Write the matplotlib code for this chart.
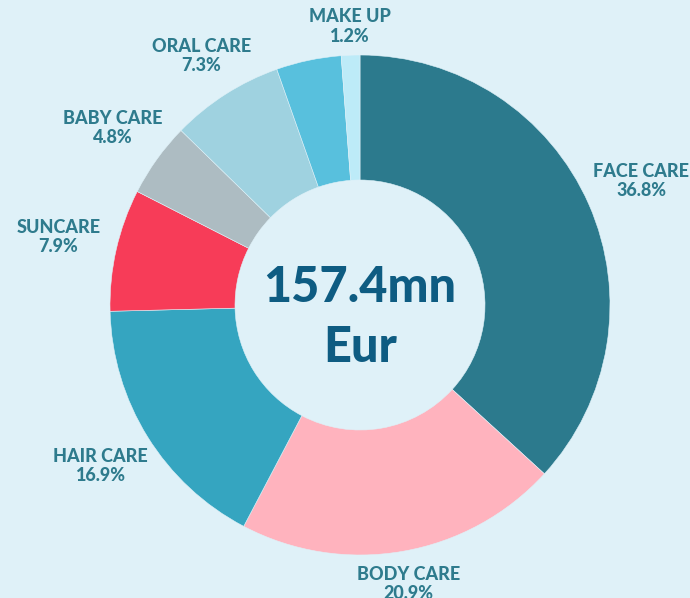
import numpy as np
import matplotlib.pyplot as plt

# segment shares (%), clockwise from 12 o'clock
categories = ['FACE CARE', 'BODY CARE', 'HAIR CARE', 'SUNCARE', 'BABY CARE',
              'ORAL CARE', '', 'MAKE UP']
shares = [36.8, 20.9, 16.9, 7.9, 4.8, 7.3, 4.2, 1.2]
colors = ['#2c7a8d', '#ffb3be', '#35a5c0', '#f73c58', '#adbcc2',
          '#9fd2e0', '#58c0dd', '#bdebf8']
total_text = '157.4mn\nEur'

bg = '#dff1f8'
label_color = '#2e7b8d'
center_color = '#0e5c82'

plt.rcParams['font.family'] = ['Lato', 'DejaVu Sans']

fig = plt.figure(figsize=(6.9, 5.98), dpi=100, facecolor=bg)
ax = fig.add_axes([0, 0, 1, 1])
ax.set_facecolor(bg)

wedges, _ = ax.pie(shares, colors=colors, startangle=90, counterclock=False,
                   radius=1.0,
                   wedgeprops=dict(width=0.5, edgecolor=bg, linewidth=0.4))

# pie() resets the limits, so set them afterwards
ax.set_xlim(-1.44, 1.32)
ax.set_ylim(-1.172, 1.22)
ax.set_aspect('equal')
ax.axis('off')

# labels: placed on the mid-angle, a bit further out on the sides
for w, name, val in zip(wedges, categories, shares):
    if not name:
        continue
    ang = np.deg2rad((w.theta1 + w.theta2) / 2)
    r = 1.11 + 0.13 * abs(np.cos(ang))
    ax.text(r * np.cos(ang), r * np.sin(ang), f'{name}\n{val}%',
            ha='center', va='center', fontsize=13, fontweight='black',
            color=label_color, linespacing=1.15)

ax.text(0, -0.05, total_text, ha='center', va='center', fontsize=35,
        fontweight='black', color=center_color, linespacing=1.4)

fig.savefig('out.png', dpi=100, facecolor=bg)
